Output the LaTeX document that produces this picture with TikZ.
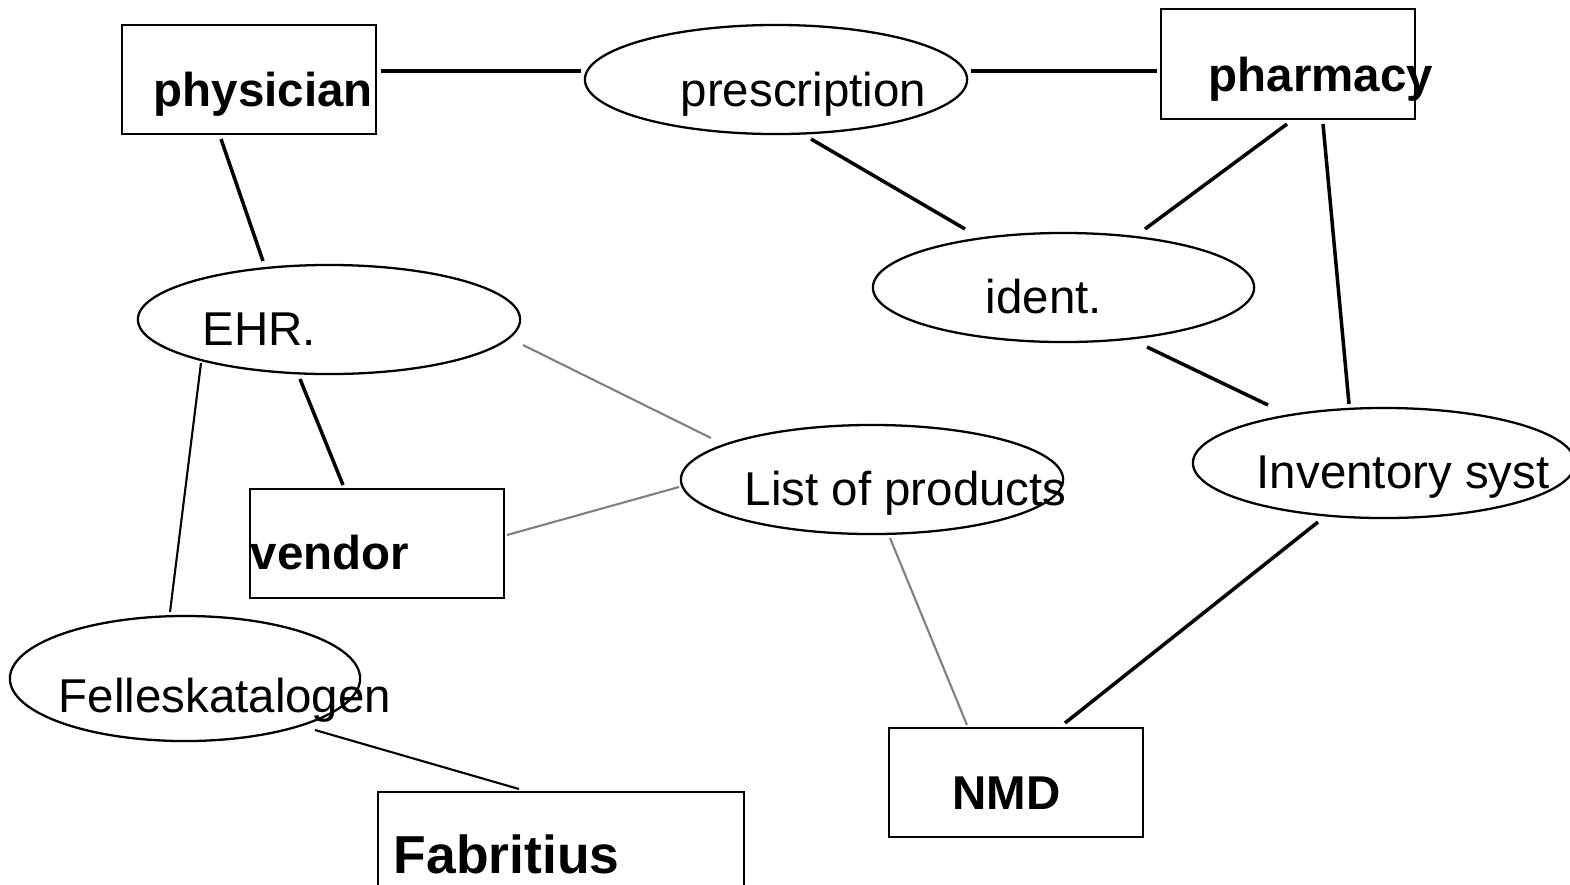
\documentclass[tikz,border=0pt]{standalone}
\usepackage{fontspec}
\setmainfont{Liberation Sans}
\usetikzlibrary{shapes.geometric}
\tikzset{
  ent/.style={draw, line width=0.6pt, rectangle, inner sep=0},
  rel/.style={draw, line width=0.65pt, ellipse, inner sep=0},
  txt/.style={anchor=base west, inner sep=0, font=\fontsize{13.5}{16}\selectfont},
  btxt/.style={txt, font=\fontsize{13.5}{16}\selectfont\bfseries},
  thickl/.style={line width=1pt},
  thinl/.style={line width=0.6pt},
  grayl/.style={line width=0.6pt, gray},
}
\begin{document}
\begin{tikzpicture}[x=0.01cm,y=-0.01cm]
\useasboundingbox (0,0) rectangle (1570,884);
% shapes
\node[ent, minimum width=2.54cm, minimum height=1.09cm] (phys) at (249,79.5) {};
\node[ent, minimum width=2.54cm, minimum height=1.10cm] (pharm) at (1288,64) {};
\node[ent, minimum width=2.54cm, minimum height=1.09cm] (vend) at (377,543.5) {};
\node[ent, minimum width=2.54cm, minimum height=1.09cm] (nmd) at (1016,782.5) {};
\node[ent, minimum width=3.66cm, minimum height=1.30cm] (fab) at (561,857) {};
\node[rel, minimum width=3.82cm, minimum height=1.09cm] (presc) at (776,79.5) {};
\node[rel, minimum width=3.82cm, minimum height=1.09cm] (ehr) at (329,319.5) {};
\node[rel, minimum width=3.81cm, minimum height=1.09cm] (ident) at (1063.5,287.5) {};
\node[rel, minimum width=3.82cm, minimum height=1.09cm] (list) at (872,479.5) {};
\node[rel, minimum width=3.82cm, minimum height=1.10cm] (inv) at (1384,463) {};
\node[rel, minimum width=3.50cm, minimum height=1.25cm] (felles) at (185,678.5) {};
% texts
\node[btxt] (physT) at (153,106) {physician};
\node[txt] (prescT) at (680,106) {prescription};
\node[btxt] (pharmT) at (1208,91) {pharmacy};
\node[txt] (ehrT) at (202,345) {EHR.};
\node[txt] (identT) at (985,313) {ident.};
\node[txt] (listT) at (744,505) {List of products};
\node[btxt] (vendT) at (250,569) {vendor};
\node[txt] (invT) at (1256,488) {Inventory syst};
\node[txt] (fellesT) at (58,712) {Felleskatalogen};
\node[txt, font=\fontsize{15.2}{18}\selectfont\bfseries] (fabT) at (393,873) {Fabritius};
\node[btxt] (nmdT) at (952,809) {NMD};
% connector end points
\coordinate (physE) at (381,71);   \coordinate (prescW) at (581,71);
\coordinate (prescE) at (971,71);  \coordinate (pharmW) at (1157,71);
\coordinate (physS) at (221,139);  \coordinate (ehrN) at (263,261);
\coordinate (prescS) at (811,139); \coordinate (identNW) at (965,229);
\coordinate (pharmSW) at (1287,124); \coordinate (identNE) at (1145,229);
\coordinate (pharmS) at (1323,124); \coordinate (invN) at (1349,404);
\coordinate (identSE) at (1147,347); \coordinate (invNW) at (1268,405);
\coordinate (ehrS) at (300,379);   \coordinate (vendN) at (343,485);
\coordinate (ehrSW) at (201,363);  \coordinate (fellesN) at (170,612);
\coordinate (fellesSE) at (315,730); \coordinate (fabN) at (519,789);
\coordinate (invS) at (1318,522);  \coordinate (nmdN) at (1065,723);
\coordinate (ehrE) at (523,345);   \coordinate (listNW) at (711,438);
\coordinate (vendE) at (507,535);  \coordinate (listW) at (679,487);
\coordinate (listS) at (890,538);  \coordinate (nmdNW) at (967,725);
% connectors
\draw[thickl] (physE) -- (prescW);
\draw[thickl] (prescE) -- (pharmW);
\draw[thickl] (physS) -- (ehrN);
\draw[thickl] (prescS) -- (identNW);
\draw[thickl] (pharmSW) -- (identNE);
\draw[thickl] (pharmS) -- (invN);
\draw[thickl] (identSE) -- (invNW);
\draw[thickl] (ehrS) -- (vendN);
\draw[thinl] (ehrSW) -- (fellesN);
\draw[thinl] (fellesSE) -- (fabN);
\draw[thickl] (invS) -- (nmdN);
\draw[grayl] (ehrE) -- (listNW);
\draw[grayl] (vendE) -- (listW);
\draw[grayl] (listS) -- (nmdNW);
\end{tikzpicture}
\end{document}
